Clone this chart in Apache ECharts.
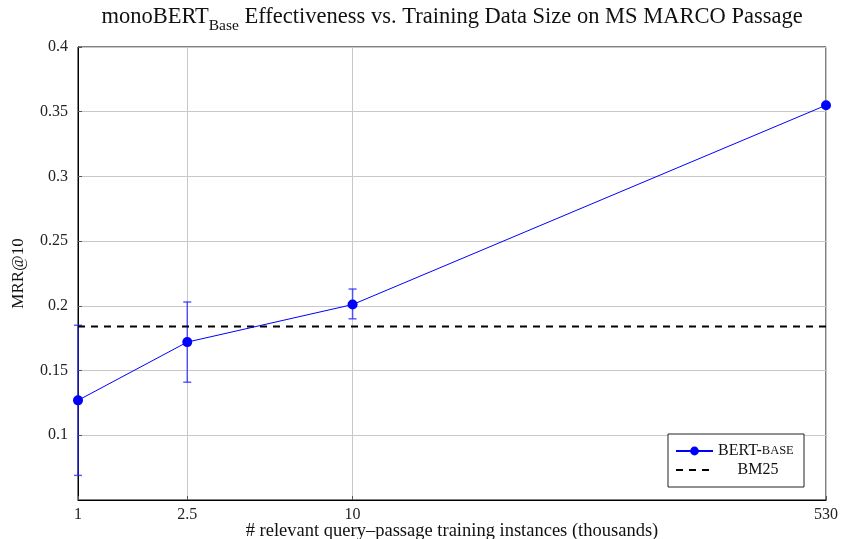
<!DOCTYPE html>
<html>
<head>
<meta charset="utf-8">
<script src="https://cdn.jsdelivr.net/npm/echarts@6/dist/echarts.min.js"></script>
<style>html,body{margin:0;padding:0;background:#fff}#c{width:841px;height:539px}</style>
</head>
<body>
<div id="c"></div>
<script>
// Data
const trainingSizes = [1, 2.5, 10, 530];           // thousands of query–passage instances
const bertMRR = [0.127, 0.172, 0.201, 0.355];
const bertLow = [0.069, 0.141, 0.190, 0.355];
const bertHigh = [0.185, 0.203, 0.213, 0.355];
const bm25MRR = 0.184;
const xTicks = [1, 2.5, 10, 530];
const yMin = 0.05, yMax = 0.4, yStep = 0.05;

const FONT = '"Liberation Serif", "DejaVu Serif", serif';
const chart = echarts.init(document.getElementById('c'), null, {renderer: 'canvas'});

const bertData = trainingSizes.map((x, i) => [x, bertMRR[i]]);
const errData = trainingSizes.map((x, i) => [x, bertLow[i], bertHigh[i]]);
const bmData = [[xTicks[0], bm25MRR], [xTicks[xTicks.length - 1], bm25MRR]];

chart.setOption({
  animation: false,
  backgroundColor: '#fff',
  title: {
    text: '{a|monoBERT}{b|Base}{a| Effectiveness vs. Training Data Size on MS MARCO Passage}',
    left: 452, top: 6, padding: 0, textAlign: 'center',
    textStyle: {
      fontWeight: 'normal',
      rich: {
        a: {fontFamily: FONT, fontSize: 22.5, fontWeight: 'normal', color: '#111', lineHeight: 28, verticalAlign: 'top'},
        b: {fontFamily: FONT, fontSize: 15.5, fontWeight: 'normal', color: '#111', lineHeight: 28, verticalAlign: 'top', padding: [12, 0, 0, 0]}
      }
    }
  },
  grid: {left: 78, right: 15, top: 47, bottom: 39, outerBoundsMode: 'none', containLabel: false,
    show: true, borderColor: '#000', borderWidth: 1, backgroundColor: 'transparent'},
  legend: {
    orient: 'vertical', right: 37, top: 434, padding: [9, 6, 9, 7], itemGap: 3,
    backgroundColor: '#fff', borderColor: '#222', borderWidth: 1, borderRadius: 0,
    itemWidth: 37, itemHeight: 11,
    data: [{name: 'BERT-BASE'}, {name: 'BM25', itemStyle: {opacity: 0}}],
    formatter: function (n) {
      if (n === 'BERT-BASE') return '{n|BERT-}{s|BASE}';
      return '{w|BM25}';
    },
    textStyle: {
      fontFamily: FONT, fontSize: 16, color: '#111',
      rich: {
        w: {width: 80, align: 'center', fontFamily: FONT, fontSize: 16, lineHeight: 16, color: '#111'},
        n: {fontFamily: FONT, fontSize: 16, lineHeight: 16, color: '#111'},
        s: {fontFamily: FONT, fontSize: 12.5, lineHeight: 16, color: '#111'}
      }
    }
  },
  xAxis: {
    type: 'log', logBase: 10, min: xTicks[0], max: xTicks[xTicks.length - 1],
    name: '# relevant query–passage training instances (thousands)',
    nameLocation: 'middle', nameGap: 23, nameMoveOverlap: false,
    nameTextStyle: {fontFamily: FONT, fontSize: 18.5, lineHeight: 17, color: '#111', verticalAlign: 'top'},
    axisLine: {show: true, onZero: false, lineStyle: {color: '#000', width: 1}},
    axisTick: {show: true, inside: true, length: 4, customValues: xTicks, lineStyle: {color: '#555'}},
    axisLabel: {customValues: xTicks, margin: 7, fontFamily: FONT, fontSize: 16, color: '#222',
      formatter: v => String(v)},
    splitLine: {show: true, lineStyle: {color: '#c8c8c8', width: 1}},
    minorTick: {show: false}, minorSplitLine: {show: false}
  },
  yAxis: {
    type: 'value', min: yMin, max: yMax, interval: yStep,
    name: 'MRR@10', nameLocation: 'middle', nameGap: 51, nameMoveOverlap: false,
    nameTextStyle: {fontFamily: FONT, fontSize: 17, color: '#111'},
    axisLine: {show: true, lineStyle: {color: '#000', width: 1}},
    axisTick: {show: true, inside: true, length: 4, lineStyle: {color: '#555'}},
    axisLabel: {showMinLabel: false, margin: 10, fontFamily: FONT, fontSize: 16, color: '#222',
      formatter: v => String(Math.round(v * 100) / 100)},
    splitLine: {show: true, lineStyle: {color: '#c8c8c8', width: 1}}
  },
  series: [
    {
      name: 'BERT-BASE', type: 'line', data: bertData,
      symbol: 'circle', symbolSize: 10, z: 5,
      lineStyle: {color: '#0000ff', width: 1},
      itemStyle: {color: '#0000ff'}
    },
    {
      name: 'BM25', type: 'line', data: bmData, symbol: 'none', z: 4,
      lineStyle: {color: '#000', width: 2, type: [7, 6]},
      itemStyle: {color: '#000'}
    },
    {
      name: 'err', type: 'custom', data: errData, z: 3,
      renderItem: function (params, api) {
        const x = api.value(0);
        const lo = api.coord([x, api.value(1)]);
        const hi = api.coord([x, api.value(2)]);
        if (Math.abs(hi[1] - lo[1]) < 1) return null;
        const h = 4;
        const style = {stroke: 'rgba(40,40,255,0.75)', lineWidth: 1.5};
        return {
          type: 'group',
          children: [
            {type: 'line', shape: {x1: lo[0], y1: lo[1], x2: hi[0], y2: hi[1]}, style},
            {type: 'line', shape: {x1: lo[0] - h, y1: lo[1], x2: lo[0] + h, y2: lo[1]}, style},
            {type: 'line', shape: {x1: hi[0] - h, y1: hi[1], x2: hi[0] + h, y2: hi[1]}, style}
          ]
        };
      },
      encode: {x: 0, y: [1, 2]}
    }
  ]
});
</script>
</body>
</html>
